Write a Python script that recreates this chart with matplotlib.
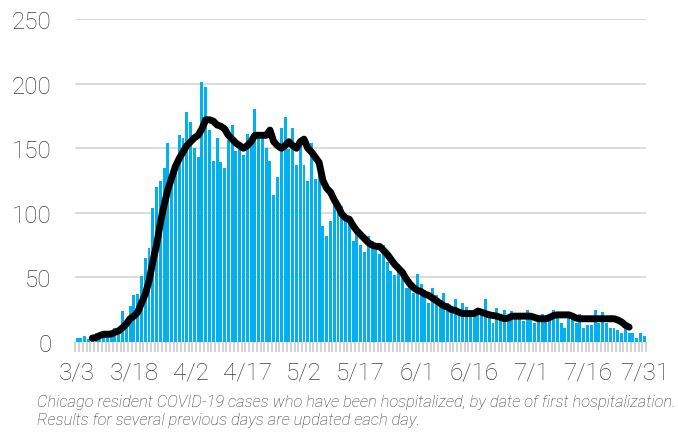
import numpy as np
import matplotlib.pyplot as plt

# daily hospitalizations, 3/3 .. 7/31
cases = [3, 3, 5, 2, 4, 7, 5, 7, 5, 6,
         11, 8, 24, 13, 28, 36, 37, 51, 65, 73,
         104, 120, 125, 135, 154, 131, 136, 160, 158, 178,
         170, 150, 143, 201, 197, 164, 140, 158, 139, 135,
         156, 168, 148, 149, 145, 161, 157, 180, 162, 158,
         150, 140, 114, 128, 166, 174, 149, 166, 137, 158,
         137, 125, 154, 126, 135, 90, 82, 94, 112, 100,
         105, 96, 93, 78, 87, 75, 70, 82, 78, 71,
         68, 75, 62, 55, 52, 60, 50, 42, 48, 38,
         53, 45, 40, 30, 42, 36, 32, 38, 30, 28,
         33, 25, 30, 27, 24, 22, 26, 24, 33, 20,
         15, 26, 22, 25, 18, 24, 20, 22, 16, 25,
         20, 15, 18, 22, 16, 22, 25, 21, 15, 11,
         23, 22, 15, 22, 11, 13, 13, 25, 15, 23,
         15, 11, 11, 9, 7, 11, 7, 7, 3, 7, 5]

# 7-day average line (None where not drawn)
avg = [None, None, None, None, 3, 3.5, 5, 6, 6, 6.2,
       7.5, 8.7, 11, 14, 18, 20, 23, 30, 37, 47,
       62, 75, 92, 106, 118, 127, 136, 142, 147, 152,
       155, 158, 160, 165, 172, 172, 171, 168, 167, 165,
       160, 157, 154, 152, 150, 152, 155, 160, 160, 160,
       160, 164, 155, 152, 150, 152, 155, 152, 150, 155,
       157, 150, 147, 143, 139, 125, 119, 116, 110, 105,
       99, 96, 95, 90, 86, 83, 80, 77, 75, 74,
       74, 71, 68, 64, 60, 57, 54, 49, 45, 42,
       40, 39, 37, 36, 34, 32, 30, 28, 27, 25,
       24.5, 23, 22, 22, 22, 22, 24, 23, 22, 21,
       20.5, 20, 19, 18, 18.5, 20, 20, 20, 20, 20,
       20, 19, 18, 18, 18, 19, 20.5, 21, 21, 21,
       21, 20, 18.5, 18, 18, 18, 18, 18, 18, 18,
       18, 18, 18, 17, 15.5, 13, 11.5, None, None, None, None]

tick_labels = ['3/3', '3/18', '4/2', '4/17', '5/2', '5/17',
               '6/1', '6/16', '7/1', '7/16', '7/31']
y_ticks = [0, 50, 100, 150, 200, 250]

caption = ("Chicago resident COVID-19 cases who have been hospitalized, by date of first hospitalization.\n"
           "Results for several previous days are updated each day.")

plt.rcParams['font.family'] = ['Roboto', 'DejaVu Sans']

x = np.arange(len(cases))
line = np.array([np.nan if v is None else v for v in avg], dtype=float)

fig = plt.figure(figsize=(6.78, 4.35), dpi=100)
ax = fig.add_axes([0.111, 0.2115, 0.842, 0.7425])

ax.bar(x, cases, width=0.78, color='#00b0f0', zorder=2)
ax.plot(x, line, color='black', lw=5, solid_capstyle='round',
        solid_joinstyle='round', zorder=3)

ax.set_xlim(-0.5, len(cases) - 0.5)
ax.set_ylim(0, 250)
ax.set_yticks(y_ticks)
ax.yaxis.grid(True, color='#d9d9d9', lw=1.3, zorder=0)
ax.set_axisbelow(True)
ax.tick_params(axis='y', length=0, pad=17, labelsize=17.5, labelcolor='#404040')

# category tick marks under every bar, labels every 15 days
ax.set_xticks(np.arange(len(cases) + 1) - 0.5, minor=True)
ax.set_xticks(np.arange(0, len(cases), 15))
ax.set_xticklabels(tick_labels)
ax.tick_params(axis='x', which='minor', length=7, width=1.3, color='#d0d0d0')
ax.tick_params(axis='x', which='major', length=0, pad=13, labelsize=17.5,
               labelcolor='#404040')

for s in ax.spines.values():
    s.set_visible(False)

for lab in ax.get_xticklabels() + ax.get_yticklabels():
    lab.set_fontweight('light')

fig.text(0.054, 0.092, caption, fontsize=11.85, style='italic', color='#333333',
         va='top', ha='left', linespacing=1.25, fontweight='light')

fig.savefig('out.png', dpi=100)
